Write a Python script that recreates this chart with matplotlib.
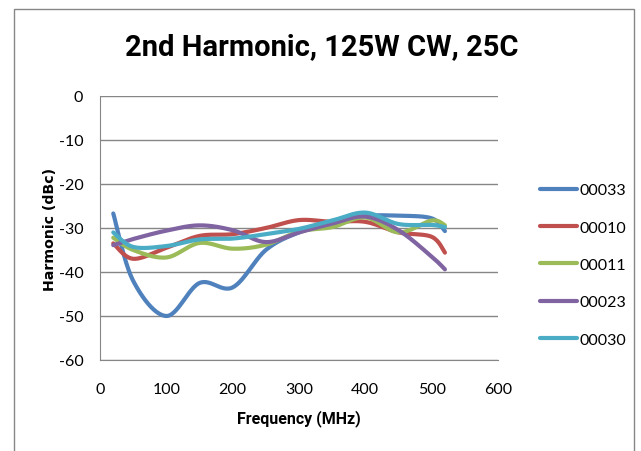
import numpy as np
import matplotlib.pyplot as plt
from matplotlib.patches import Rectangle

freq = [20, 50, 100, 150, 200, 250, 300, 350, 400, 450, 500, 520]
s00033 = [-26.7, -42, -50, -42.5, -43.5, -35, -31, -29, -27.3, -27.2, -27.8, -30.7]
s00010 = [-33.5, -37, -34.5, -31.8, -31.4, -30, -28.2, -28.6, -28.6, -31, -32, -35.6]
s00011 = [-32.2, -35, -36.7, -33.4, -34.7, -33.8, -30.8, -29.8, -27.6, -31, -28.3, -29.4]
s00023 = [-33.9, -32.5, -30.6, -29.4, -30.5, -33.2, -31, -29, -27.4, -30.5, -36.5, -39.4]
s00030 = [-31, -34.3, -34.1, -32.6, -32.4, -31.4, -30.2, -28.3, -26.5, -29.1, -29.3, -29.8]

names = ['00033', '00010', '00011', '00023', '00030']
series = [s00033, s00010, s00011, s00023, s00030]
colors = ['#4F81BD', '#C0504D', '#9BBB59', '#8064A2', '#4BACC6']


def smooth(x, y, n=30):
    # Excel-style smoothed line (Catmull-Rom through the points)
    p = np.column_stack([x, y]).astype(float)
    p = np.vstack([p[0], p, p[-1]])
    out = []
    t = np.linspace(0, 1, n)[:, None]
    for i in range(1, len(p) - 2):
        p0, p1, p2, p3 = p[i - 1], p[i], p[i + 1], p[i + 2]
        c1 = p1 + (p2 - p0) / 6
        c2 = p2 - (p3 - p1) / 6
        seg = ((1 - t) ** 3) * p1 + 3 * ((1 - t) ** 2) * t * c1 + 3 * (1 - t) * t ** 2 * c2 + t ** 3 * p2
        out.append(seg)
    out = np.vstack(out)
    return out[:, 0], out[:, 1]


plt.rcParams['font.family'] = ['Lato', 'DejaVu Sans']
plt.rcParams['axes.unicode_minus'] = False

fig = plt.figure(figsize=(6.41, 4.52), dpi=100)
fig.patches.append(Rectangle((14 / 641, -0.1), 620 / 641, 1.1 - 10 / 452, transform=fig.transFigure,
                             fill=False, edgecolor='#878787', linewidth=1))
ax = fig.add_axes([100 / 641, 1 - 361 / 452, 398 / 641, 264 / 452])

for name, vals, c in zip(names, series, colors):
    sx, sy = smooth(freq, vals)
    ax.plot(sx, sy, color=c, linewidth=3, label=name, solid_capstyle='round')

ax.set_xlim(0, 600)
ax.set_ylim(-60, 0)
ax.set_xticks(range(0, 601, 100))
ax.set_yticks(range(-60, 1, 10))
ax.yaxis.grid(True, color='#868686', linewidth=1)
ax.set_axisbelow(True)
ax.tick_params(length=0, labelsize=11.5)
ax.tick_params(axis='x', pad=16)
ax.tick_params(axis='y', pad=12)
for s in ['top', 'right']:
    ax.spines[s].set_visible(False)
for s in ['left', 'bottom']:
    ax.spines[s].set_color('#868686')

fig.text(322 / 641, 1 - 47 / 452, '2nd Harmonic, 125W CW, 25C', ha='center', va='center',
         fontsize=21, fontweight='bold', family=['Roboto', 'DejaVu Sans'])
ax.set_xlabel('Frequency (MHz)', fontsize=11.5, fontweight='bold', labelpad=9,
              family=['Roboto', 'DejaVu Sans'])
ax.set_ylabel('Harmonic (dBc)', fontsize=10.2, fontweight='bold', family=['DejaVu Sans'], labelpad=1.5)

ax.legend(loc='center left', bbox_to_anchor=(1.07, 0.36), frameon=False, fontsize=11.5,
          handlelength=2.3, handletextpad=0.15, labelspacing=1.45)

fig.savefig('out.png', dpi=100)
